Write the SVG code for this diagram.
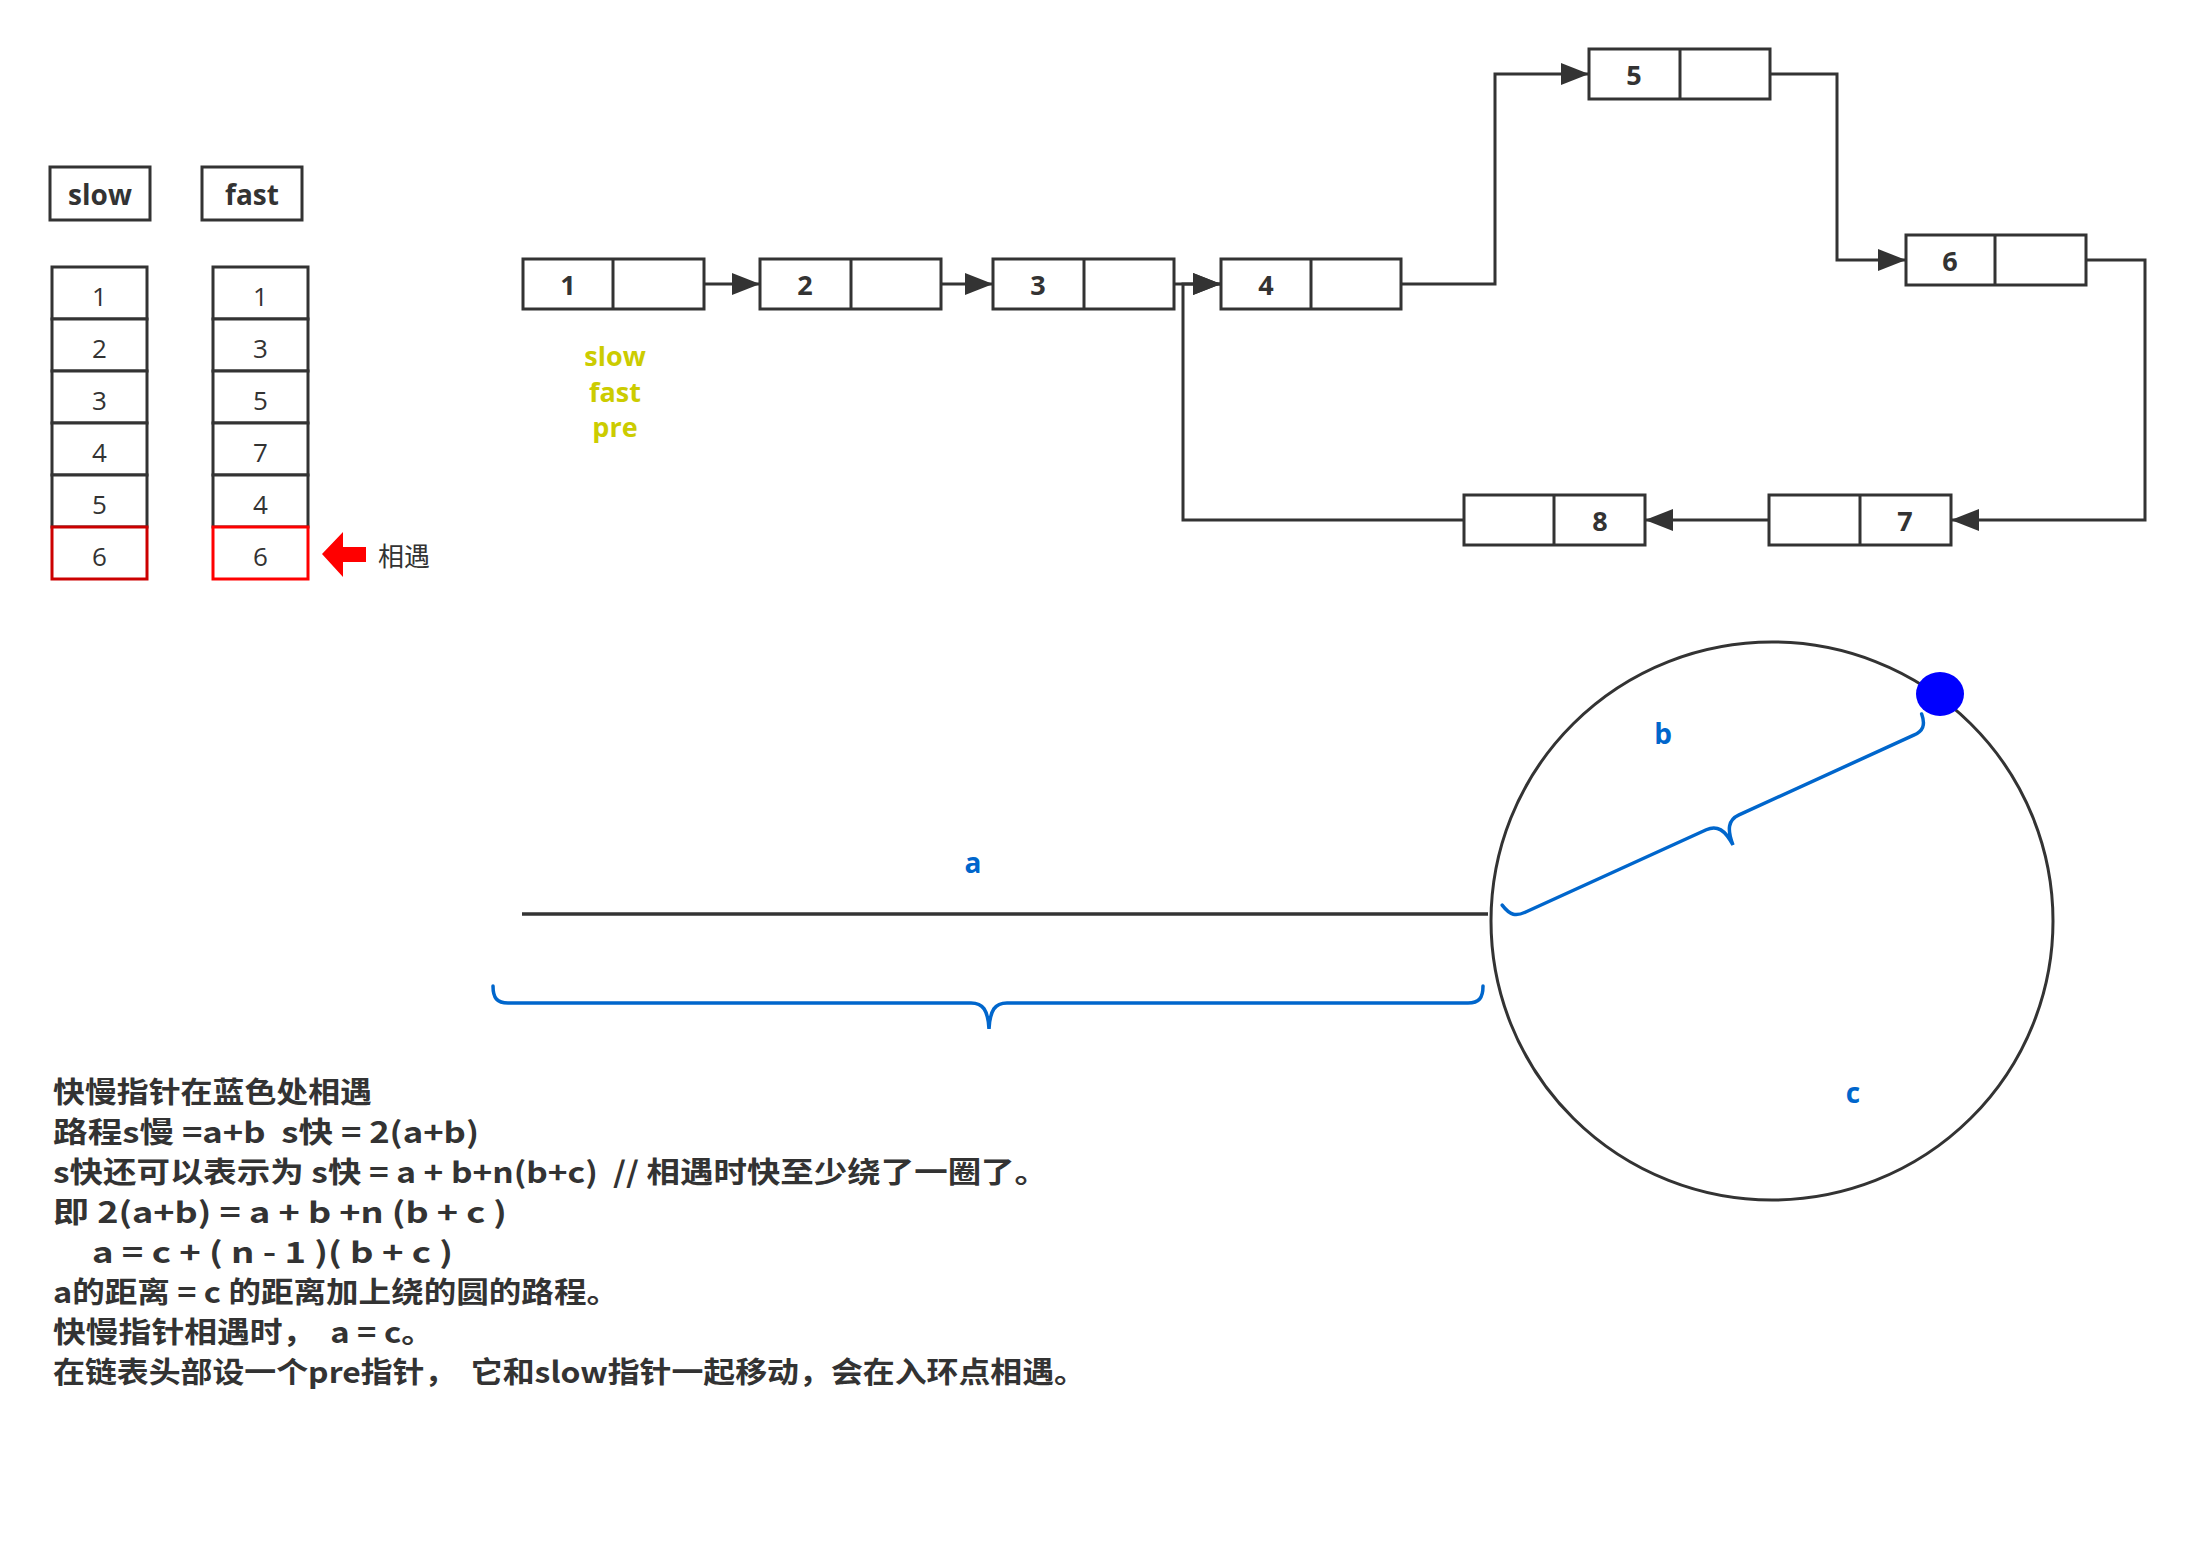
<svg xmlns="http://www.w3.org/2000/svg" width="2195" height="1548" viewBox="0 0 2195 1548">
<style>
.bx{fill:#fff;stroke:#333;stroke-width:3}
.ln{fill:none;stroke:#333;stroke-width:3}
.cn{fill:none;stroke:#333;stroke-width:3}
.nd{font-family:"Open Sans","Noto Sans",sans-serif;font-weight:bold;font-size:27px;fill:#333;text-anchor:middle}
.hd{font-family:"Open Sans","Noto Sans",sans-serif;font-weight:bold;font-size:28px;fill:#333;text-anchor:middle}
.cl{font-family:"Open Sans","Noto Sans",sans-serif;font-size:26px;fill:#333;text-anchor:middle}
.yl{font-family:"Open Sans","Noto Sans",sans-serif;font-weight:bold;font-size:27px;fill:#CCCC00;text-anchor:middle}
.bl{font-family:"Open Sans","Noto Sans",sans-serif;font-weight:bold;font-size:28px;fill:#0066CC;text-anchor:middle}
.br{fill:none;stroke:#0066CC;stroke-width:3.5;stroke-linecap:round}
.pg{font-family:"Noto Sans CJK SC",sans-serif;font-weight:bold;font-size:29px;fill:#333;white-space:pre}
.cj{font-family:"Noto Sans CJK SC",sans-serif;font-size:26px;fill:#333}
</style>
<defs>
<marker id="ah" markerUnits="userSpaceOnUse" markerWidth="28" markerHeight="22" refX="28" refY="11" orient="auto">
<path d="M0,0 L28,11 L0,22 z" fill="#333"/>
</marker>
</defs>

<g id="slow-header"><rect class="bx" x="50" y="167" width="100" height="53"/><text class="hd" x="100" y="205">slow</text></g>
<g id="fast-header"><rect class="bx" x="202" y="167" width="100" height="53"/><text class="hd" x="252" y="205">fast</text></g>

<g id="slow-column">
<rect class="bx" x="52" y="267" width="95" height="52"/><text class="cl" x="99.5" y="306">1</text>
<rect class="bx" x="52" y="319" width="95" height="52"/><text class="cl" x="99.5" y="358">2</text>
<rect class="bx" x="52" y="371" width="95" height="52"/><text class="cl" x="99.5" y="410">3</text>
<rect class="bx" x="52" y="423" width="95" height="52"/><text class="cl" x="99.5" y="462">4</text>
<rect class="bx" x="52" y="475" width="95" height="52"/><text class="cl" x="99.5" y="514">5</text>
<rect class="bx" x="52" y="527" width="95" height="52" style="stroke:#CC0000"/><text class="cl" x="99.5" y="566">6</text>
</g>
<g id="fast-column">
<rect class="bx" x="213" y="267" width="95" height="52"/><text class="cl" x="260.5" y="306">1</text>
<rect class="bx" x="213" y="319" width="95" height="52"/><text class="cl" x="260.5" y="358">3</text>
<rect class="bx" x="213" y="371" width="95" height="52"/><text class="cl" x="260.5" y="410">5</text>
<rect class="bx" x="213" y="423" width="95" height="52"/><text class="cl" x="260.5" y="462">7</text>
<rect class="bx" x="213" y="475" width="95" height="52"/><text class="cl" x="260.5" y="514">4</text>
<rect class="bx" x="213" y="527" width="95" height="52" style="stroke:#FF0000"/><text class="cl" x="260.5" y="566">6</text>
</g>
<g id="meet-marker">
<polygon points="322,554 343,532 343,547 366,547 366,562 343,562 343,577" fill="#FF0000"/>
<text class="cj" x="378" y="566">相遇</text>
</g>

<g id="connectors">
<path class="cn" d="M705,284 H760" marker-end="url(#ah)"/>
<path class="cn" d="M942,284 H993" marker-end="url(#ah)"/>
<path class="cn" d="M1175,284 H1221" marker-end="url(#ah)"/>
<path class="cn" d="M1401,284 H1495 V74 H1589" marker-end="url(#ah)"/>
<path class="cn" d="M1770,74 H1837 V260 H1906" marker-end="url(#ah)"/>
<path class="cn" d="M2086,260 H2145 V520 H1951" marker-end="url(#ah)"/>
<path class="cn" d="M1769,520 H1645" marker-end="url(#ah)"/>
<path class="cn" d="M1464,520 H1183 V284 H1221" marker-end="url(#ah)"/>
</g>

<g id="node1"><rect class="bx" x="523" y="259" width="181" height="50"/><line class="ln" x1="613" y1="259" x2="613" y2="309"/><text class="nd" x="568" y="295">1</text></g>
<g id="node2"><rect class="bx" x="760" y="259" width="181" height="50"/><line class="ln" x1="851" y1="259" x2="851" y2="309"/><text class="nd" x="805" y="295">2</text></g>
<g id="node3"><rect class="bx" x="993" y="259" width="181" height="50"/><line class="ln" x1="1084" y1="259" x2="1084" y2="309"/><text class="nd" x="1038" y="295">3</text></g>
<g id="node4"><rect class="bx" x="1221" y="259" width="180" height="50"/><line class="ln" x1="1311" y1="259" x2="1311" y2="309"/><text class="nd" x="1266" y="295">4</text></g>
<g id="node5"><rect class="bx" x="1589" y="49" width="181" height="50"/><line class="ln" x1="1680" y1="49" x2="1680" y2="99"/><text class="nd" x="1634" y="85">5</text></g>
<g id="node6"><rect class="bx" x="1906" y="235" width="180" height="50"/><line class="ln" x1="1995" y1="235" x2="1995" y2="285"/><text class="nd" x="1950" y="271">6</text></g>
<g id="node7"><rect class="bx" x="1769" y="495" width="182" height="50"/><line class="ln" x1="1860" y1="495" x2="1860" y2="545"/><text class="nd" x="1905" y="531">7</text></g>
<g id="node8"><rect class="bx" x="1464" y="495" width="181" height="50"/><line class="ln" x1="1554" y1="495" x2="1554" y2="545"/><text class="nd" x="1600" y="531">8</text></g>

<g id="pointers">
<text class="yl" x="615" y="366">slow</text>
<text class="yl" x="615" y="402">fast</text>
<text class="yl" x="615" y="437">pre</text>
</g>

<g id="segment-a">
<line x1="522" y1="914" x2="1488" y2="914" stroke="#333" stroke-width="3.5"/>
<text class="bl" x="973" y="873">a</text>
<path class="br" d="M493,986 C493,998 497,1003 508,1003 L971,1003 C983,1003 988,1010 989,1029 C990,1010 995,1003 1007,1003 L1468,1003 C1479,1003 1483,998 1483,986"/>
</g>

<g id="loop">
<ellipse cx="1772" cy="921" rx="281" ry="279" fill="none" stroke="#333" stroke-width="3"/>
<ellipse cx="1940" cy="694" rx="24" ry="22" fill="#0000FF"/>
<path class="br" transform="translate(1517,916) rotate(-24.5)" d="M-9,-16 C-6,-3 -1,0 9,0 L208,0 C220,0 225,8 226,25 C227,8 232,0 244,0 L436,0 C446,0 451,-4 452,-16"/>
<text class="bl" x="1663" y="744">b</text>
<text class="bl" x="1853" y="1103">c</text>
</g>

<g id="explanation">
<text class="pg" x="53" y="1103" textLength="319" lengthAdjust="spacingAndGlyphs">快慢指针在蓝色处相遇</text>
<text class="pg" x="53" y="1143" textLength="426" lengthAdjust="spacingAndGlyphs">路程s慢 =a+b  s快 = 2(a+b)</text>
<text class="pg" x="53" y="1183" textLength="995" lengthAdjust="spacingAndGlyphs">s快还可以表示为 s快 = a + b+n(b+c)  // 相遇时快至少绕了一圈了。</text>
<text class="pg" x="53" y="1223" textLength="454" lengthAdjust="spacingAndGlyphs">即 2(a+b) = a + b +n (b + c )</text>
<text class="pg" x="92" y="1263" textLength="361" lengthAdjust="spacingAndGlyphs">a = c + ( n - 1 )( b + c )</text>
<text class="pg" x="53" y="1303" textLength="566" lengthAdjust="spacingAndGlyphs">a的距离 = c 的距离加上绕的圆的路程。</text>
<text class="pg" x="53" y="1343" textLength="381" lengthAdjust="spacingAndGlyphs">快慢指针相遇时，  a = c。</text>
<text class="pg" x="53" y="1383" textLength="1033" lengthAdjust="spacingAndGlyphs">在链表头部设一个pre指针，  它和slow指针一起移动，会在入环点相遇。</text>
</g>
</svg>
